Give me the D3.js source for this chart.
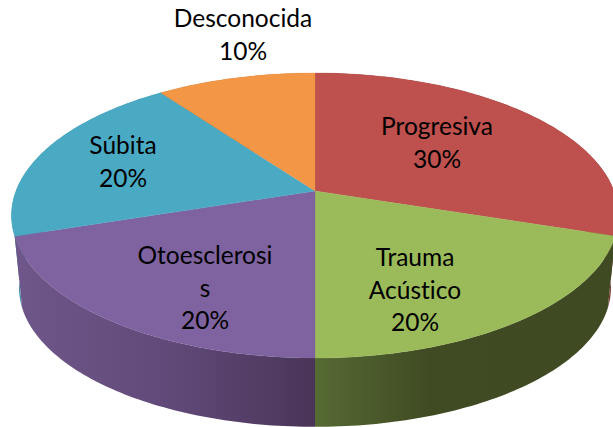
<!DOCTYPE html>
<html>
<head>
<meta charset="utf-8">
<script src="https://cdn.jsdelivr.net/npm/d3@7"></script>
<style>
  html, body { margin: 0; padding: 0; background: #fff; }
  svg { display: block; }
  text { font-variant-ligatures: none; }
</style>
</head>
<body>
<div id="chart"></div>
<script>
var categories = ["Progresiva", "Trauma Acústico", "Otoesclerosis", "Súbita", "Desconocida"];
var values = [30, 20, 20, 20, 10];
var topColors = ["#be504e", "#9bba5a", "#7f63a0", "#4aaac4", "#f39645"];

// the reference wraps these names in its own way
var nameLines = [
  ["Progresiva"],
  ["Trauma", "Acústico"],
  ["Otoesclerosi", "s"],
  ["Súbita"],
  ["Desconocida"]
];
var labelAnchors = [[437, 135], [415, 266], [205, 264], [123, 154], [243, 27]];

var width = 613, height = 427;

var svg = d3.select("#chart")
  .append("svg")
  .attr("width", width)
  .attr("height", height);

// perspective of the tilted disc, fitted on the rim of the reference
var cx = 315, cy = 191, a = 299, b = 138.3, k = 0.172;
var depth = 73, bottomScale = 0.975;

function project(theta) {
  var u = Math.sin(theta), v = -Math.cos(theta);
  var w = 1 - k * v;
  return [cx + a * u / w, cy + b * v / w];
}

function projectBottom(theta) {
  var p = project(theta);
  return [cx + (p[0] - cx) * bottomScale, cy + depth + (p[1] - cy) * bottomScale];
}

var pie = d3.pie().sort(null).value(function (d) { return d; });
var arcs = pie(values);
var line = d3.line();

function rim(d) {
  var n = Math.ceil((d.endAngle - d.startAngle) * 180 / Math.PI);
  return d3.range(n + 1).map(function (i) {
    return d.startAngle + (d.endAngle - d.startAngle) * i / n;
  });
}

var defs = svg.append("defs");

function sideGradient(id, x1, x2, stops) {
  var g = defs.append("linearGradient")
    .attr("id", id)
    .attr("gradientUnits", "userSpaceOnUse")
    .attr("x1", x1).attr("x2", x2)
    .attr("y1", 0).attr("y2", 0);
  stops.forEach(function (s) {
    g.append("stop").attr("offset", s[0]).attr("stop-color", s[1]);
  });
}

sideGradient("side1", 315, 613, [[0, "#566a33"], [0.38, "#404b23"], [1, "#3f4a22"]]);
sideGradient("side2", 20, 315, [[0, "#6f568a"], [0.5, "#614a79"], [1, "#4a3558"]]);

var sideFills = ["#7a3432", "url(#side1)", "url(#side2)", "#3a8ba3", "#b86f30"];

// side walls, back ones first so the front ones cover them
[4, 0, 3, 1, 2].forEach(function (i) {
  var thetas = rim(arcs[i]);
  var pts = thetas.map(project).concat(thetas.slice().reverse().map(projectBottom));
  svg.append("path")
    .attr("d", line(pts) + "Z")
    .attr("fill", sideFills[i]);
});

// top faces
svg.append("g")
  .selectAll("path")
  .data(arcs)
  .enter()
  .append("path")
  .attr("d", function (d) {
    return line([[cx, cy]].concat(rim(d).map(project))) + "Z";
  })
  .attr("fill", function (d, i) { return topColors[i]; })
  .attr("stroke", function (d, i) { return topColors[i]; })
  .attr("stroke-width", 0.3);

// labels
var lineHeight = 32.5;
var labels = svg.append("g")
  .selectAll("text")
  .data(nameLines)
  .enter()
  .append("text")
  .attr("text-anchor", "middle")
  .attr("font-family", "Lato, 'Open Sans', sans-serif")
  .attr("font-size", 24.5)
  .attr("fill", "#000");

labels.each(function (lines, i) {
  var t = d3.select(this);
  lines.concat(values[i] + "%").forEach(function (s, j) {
    t.append("tspan")
      .attr("x", labelAnchors[i][0])
      .attr("y", labelAnchors[i][1] + j * lineHeight)
      .text(s);
  });
});
</script>
</body>
</html>
